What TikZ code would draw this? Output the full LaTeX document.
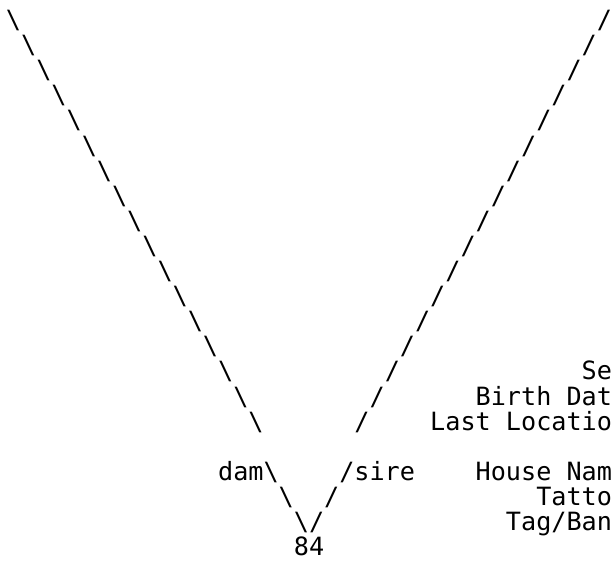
\documentclass[tikz,border=0pt]{standalone}
\usepackage{fontspec}
\usepackage{tikz}
\newfontfamily\pedFont{DejaVu Sans Mono}
\definecolor{pedInk}{HTML}{000000}
\newcommand{\pedText}{\pedFont\fontsize{18.87}{18.8}\selectfont}
\tikzset{
  ascii/.style={font=\pedText, text=pedInk, anchor=base west, inner sep=0pt, outer sep=0pt},
  asciiR/.style={ascii, anchor=base east},
}

\begin{document}
\begin{tikzpicture}[x=0.75pt, y=-0.75pt]
  % page frame in pixels of the reference (613 x 561)
  \useasboundingbox (0,0) rectangle (613,561);

  % character grid: one unit = one column / one text row
  \begin{scope}[shift={(4.5pt,-21.375pt)}, x=11.3625pt, y=-18.825pt]

    % --- upper V: the two parent lines ---
    \foreach \r in {0,...,16} {
      \node[ascii] (up l\r) at (\r,\r) {\textbackslash};
      \node[ascii] (up r\r) at ({39-\r},\r) {/};
    }

    % --- record fields, right aligned (cut by the page edge) ---
    \node[asciiR] (sex)   at (41,14) {Sex};
    \node[asciiR] (birth) at (41,15) {Birth Date};
    \node[asciiR] (loc)   at (41,16) {Last Location};
    \node[asciiR] (house) at (41,18) {House Name};
    \node[asciiR] (tat)   at (41,19) {Tattoo};
    \node[asciiR] (tag)   at (41,20) {Tag/Band};

    % --- lower V: dam and sire joining at the animal ---
    \node[ascii] (dam)  at (14,18) {dam\textbackslash};
    \node[ascii] (sire) at (22,18) {/sire};
    \node[ascii] (lo l1) at (18,19) {\textbackslash};
    \node[ascii] (lo r1) at (21,19) {/};
    \node[ascii] (lo l2) at (19,20) {\textbackslash};
    \node[ascii] (lo r2) at (20,20) {/};
    \node[ascii] (animal) at (19,21) {84};
  \end{scope}
\end{tikzpicture}
\end{document}
